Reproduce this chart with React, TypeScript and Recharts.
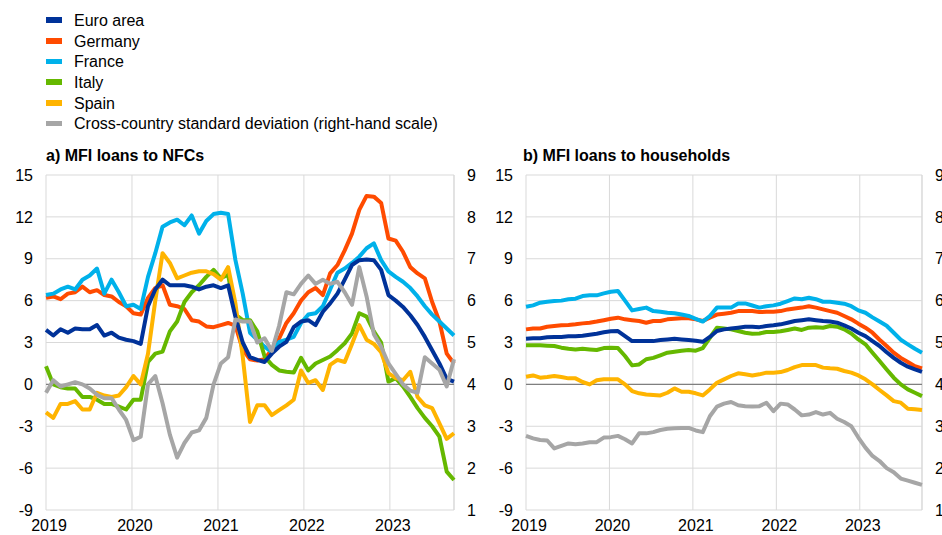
import React from 'react';
import { LineChart, Line, XAxis, YAxis, CartesianGrid, ReferenceLine } from 'recharts';

// ---- tick labels ----
const yearLabels = ['2019', '2020', '2021', '2022', '2023'];
const yearTicks = [0, 11.8, 23.6, 35.4, 47.2]; // month index of each January gridline
const leftTicks = [-9, -6, -3, 0, 3, 6, 9, 12, 15];
const rightTicks = [1, 2, 3, 4, 5, 6, 7, 8, 9];

// ---- a) MFI loans to NFCs (monthly, Jan 2019 - Sep 2023) ----
const euroNfc = [3.9, 3.5, 3.95, 3.7, 4.0, 3.95, 3.95, 4.25, 3.5, 3.7, 3.35, 3.2, 3.1, 2.9, 5.6, 6.8, 7.5, 7.1, 7.1, 7.1, 7.0, 6.8, 7.0, 7.1, 6.9, 7.1, 4.85, 3.0, 1.95, 1.75, 1.6, 2.2, 2.7, 3.05, 4.1, 4.5, 4.6, 4.25, 5.2, 5.8, 6.5, 7.5, 8.55, 8.9, 8.95, 8.9, 8.2, 6.4, 6.0, 5.55, 4.95, 4.25, 3.4, 2.45, 1.5, 0.4, 0.2];
const germanyNfc = [6.2, 6.3, 6.1, 6.5, 6.6, 7.0, 6.6, 6.75, 6.4, 6.3, 5.9, 5.6, 5.1, 5.0, 6.2, 6.9, 7.1, 5.7, 5.6, 5.4, 4.6, 4.5, 4.15, 4.1, 4.25, 4.4, 4.2, 2.5, 1.8, 1.7, 1.8, 2.5, 3.3, 4.4, 5.1, 6.0, 6.6, 6.9, 6.4, 7.95, 8.55, 9.6, 10.8, 12.5, 13.5, 13.45, 13.0, 10.45, 10.3, 9.5, 8.4, 7.95, 7.6, 5.9, 4.5, 2.2, 1.5];
const franceNfc = [6.4, 6.5, 6.8, 7.0, 6.8, 7.5, 7.8, 8.3, 6.5, 7.5, 6.6, 5.6, 5.7, 5.4, 7.7, 9.4, 11.3, 11.6, 11.8, 11.4, 12.1, 10.8, 11.7, 12.2, 12.3, 12.2, 8.9, 6.5, 3.7, 3.2, 2.7, 2.3, 3.05, 3.2, 3.4, 4.4, 5.0, 5.1, 5.6, 6.8, 8.0, 8.3, 8.7, 9.15, 9.75, 10.1, 8.9, 8.1, 7.7, 7.35, 6.9, 6.3, 5.6, 5.0, 4.5, 4.0, 3.5];
const italyNfc = [1.3, 0.0, -0.2, -0.3, -0.3, -0.9, -0.9, -1.1, -1.4, -1.4, -1.6, -1.8, -1.1, -1.1, 1.6, 2.2, 2.35, 3.8, 4.5, 5.9, 6.6, 7.1, 7.7, 8.2, 7.6, 7.85, 5.0, 4.6, 4.6, 3.8, 2.0, 1.4, 1.0, 0.9, 0.85, 1.9, 1.0, 1.5, 1.75, 2.0, 2.45, 2.95, 3.65, 5.1, 4.85, 3.8, 3.0, 0.2, 0.45, -0.15, -0.9, -1.7, -2.4, -3.0, -3.75, -6.25, -6.85];
const spainNfc = [-2.0, -2.4, -1.4, -1.4, -1.2, -1.8, -1.8, -0.6, -0.8, -0.9, -0.8, -0.2, 0.6, 0.0, 2.2, 6.0, 9.4, 8.7, 7.6, 7.8, 8.0, 8.1, 8.1, 7.9, 7.5, 8.4, 5.8, 2.0, -2.7, -1.5, -1.5, -2.2, -1.85, -1.5, -1.1, 1.0, 0.1, 0.3, -0.4, 1.4, 1.75, 1.6, 2.9, 4.25, 3.2, 2.9, 2.3, 0.8, 0.45, 0.3, 0.9, -0.9, -1.5, -1.7, -2.8, -3.9, -3.5];
const sdNfc = [3.8, 4.1, 3.95, 4.0, 4.05, 4.0, 3.9, 3.75, 3.67, 3.67, 3.4, 3.15, 2.67, 2.75, 4.0, 4.2, 3.55, 2.8, 2.25, 2.6, 2.85, 2.9, 3.2, 4.0, 4.5, 4.65, 5.55, 5.5, 5.5, 5.0, 5.1, 4.8, 5.4, 6.2, 6.15, 6.4, 6.6, 6.4, 6.5, 6.4, 6.45, 6.2, 5.9, 6.8, 6.1, 5.2, 4.9, 4.5, 4.25, 4.0, 3.85, 3.8, 4.65, 4.5, 4.35, 3.95, 4.6];

// ---- b) MFI loans to households ----
const euroHh = [3.27, 3.3, 3.3, 3.37, 3.4, 3.4, 3.44, 3.44, 3.49, 3.56, 3.63, 3.73, 3.8, 3.82, 3.46, 3.1, 3.1, 3.1, 3.1, 3.18, 3.22, 3.27, 3.22, 3.18, 3.13, 3.05, 3.4, 3.82, 3.94, 4.0, 4.06, 4.13, 4.13, 4.1, 4.18, 4.23, 4.3, 4.42, 4.54, 4.6, 4.66, 4.6, 4.54, 4.5, 4.42, 4.23, 4.0, 3.7, 3.46, 3.1, 2.75, 2.3, 1.9, 1.55, 1.27, 1.07, 0.9];
const germanyHh = [3.94, 4.0, 4.0, 4.13, 4.18, 4.23, 4.25, 4.3, 4.37, 4.42, 4.5, 4.6, 4.7, 4.78, 4.66, 4.6, 4.54, 4.42, 4.54, 4.54, 4.66, 4.7, 4.73, 4.73, 4.66, 4.54, 4.78, 5.0, 5.06, 5.13, 5.25, 5.25, 5.25, 5.18, 5.2, 5.2, 5.25, 5.37, 5.44, 5.5, 5.6, 5.5, 5.37, 5.25, 5.13, 4.9, 4.66, 4.35, 4.06, 3.7, 3.2, 2.75, 2.27, 1.9, 1.6, 1.3, 1.15];
const franceHh = [5.56, 5.66, 5.85, 5.92, 5.97, 6.0, 6.1, 6.14, 6.33, 6.38, 6.38, 6.52, 6.64, 6.69, 6.0, 5.3, 5.4, 5.5, 5.25, 5.2, 5.13, 5.09, 5.0, 4.9, 4.7, 4.5, 4.9, 5.5, 5.5, 5.5, 5.8, 5.8, 5.65, 5.5, 5.6, 5.66, 5.78, 5.97, 6.16, 6.1, 6.2, 6.1, 5.92, 5.92, 5.85, 5.78, 5.6, 5.3, 5.13, 4.8, 4.5, 4.2, 3.7, 3.2, 2.87, 2.55, 2.27];
const italyHh = [2.8, 2.8, 2.8, 2.77, 2.75, 2.63, 2.55, 2.5, 2.55, 2.5, 2.46, 2.6, 2.63, 2.6, 2.03, 1.36, 1.43, 1.8, 1.9, 2.08, 2.27, 2.34, 2.41, 2.46, 2.41, 2.6, 3.34, 4.06, 4.0, 3.94, 3.82, 3.7, 3.63, 3.65, 3.75, 3.75, 3.8, 3.9, 4.0, 3.9, 4.06, 4.1, 4.06, 4.18, 4.13, 3.94, 3.65, 3.22, 2.87, 2.27, 1.67, 1.07, 0.48, 0.0, -0.36, -0.6, -0.84];
const spainHh = [0.55, 0.64, 0.48, 0.53, 0.6, 0.53, 0.43, 0.43, 0.17, 0.0, 0.29, 0.36, 0.36, 0.36, 0.0, -0.48, -0.64, -0.72, -0.76, -0.79, -0.6, -0.29, -0.53, -0.53, -0.64, -0.79, -0.36, 0.12, 0.36, 0.6, 0.79, 0.72, 0.64, 0.72, 0.84, 0.84, 0.88, 1.03, 1.24, 1.38, 1.38, 1.38, 1.2, 1.15, 1.12, 0.96, 0.84, 0.64, 0.36, 0.0, -0.4, -0.79, -1.2, -1.31, -1.74, -1.79, -1.84];
const sdHh = [2.77, 2.71, 2.67, 2.66, 2.47, 2.53, 2.59, 2.57, 2.59, 2.62, 2.62, 2.73, 2.74, 2.77, 2.69, 2.59, 2.83, 2.83, 2.86, 2.91, 2.94, 2.95, 2.96, 2.96, 2.9, 2.86, 3.24, 3.47, 3.54, 3.58, 3.5, 3.48, 3.47, 3.48, 3.56, 3.36, 3.54, 3.52, 3.4, 3.26, 3.28, 3.34, 3.28, 3.32, 3.18, 3.1, 3.0, 2.73, 2.49, 2.29, 2.17, 2.0, 1.9, 1.75, 1.7, 1.65, 1.6];

const seriesInfo = [
  { key: 'germany', name: 'Germany', color: '#FF4B00', axis: 'l' },
  { key: 'france', name: 'France', color: '#00B1EA', axis: 'l' },
  { key: 'italy', name: 'Italy', color: '#65B800', axis: 'l' },
  { key: 'spain', name: 'Spain', color: '#FFB400', axis: 'l' },
  { key: 'euro', name: 'Euro area', color: '#003299', axis: 'l' },
  { key: 'sd', name: 'Cross-country standard deviation (right-hand scale)', color: '#A6A6A6', axis: 'r' },
];
const legendOrder = ['euro', 'germany', 'france', 'italy', 'spain', 'sd'];

const nfcData = euroNfc.map((_, i) => ({
  i,
  euro: euroNfc[i],
  germany: germanyNfc[i],
  france: franceNfc[i],
  italy: italyNfc[i],
  spain: spainNfc[i],
  sd: sdNfc[i],
}));
const hhData = euroHh.map((_, i) => ({
  i,
  euro: euroHh[i],
  germany: germanyHh[i],
  france: franceHh[i],
  italy: italyHh[i],
  spain: spainHh[i],
  sd: sdHh[i],
}));

const FONT = 'Arial, "Liberation Sans", sans-serif';
const tickStyle = { fontSize: 16, fill: '#000', fontFamily: FONT };
const lastIndex = euroNfc.length - 1;

function Panel(props: { data: any[]; width: number; rightWidth: number }) {
  const { data, width, rightWidth } = props;
  return (
    <LineChart
      width={width}
      height={395}
      data={data}
      margin={{ top: 35, right: 0, left: 0, bottom: 0 }}
    >
      <CartesianGrid yAxisId="l" stroke="#d9d9d9" strokeWidth={1} />
      <XAxis
        dataKey="i"
        type="number"
        domain={[0, lastIndex]}
        ticks={yearTicks}
        tickFormatter={(v: number) => yearLabels[yearTicks.indexOf(v)] ?? ''}
        axisLine={false}
        tickLine={false}
        tickSize={6}
        tickMargin={4}
        height={25}
        tick={{ ...tickStyle, dx: 3 }}
        interval={0}
      />
      <YAxis
        yAxisId="l"
        orientation="left"
        domain={[-9, 15]}
        ticks={leftTicks}
        axisLine={false}
        tickLine={false}
        tickSize={6}
        tickMargin={7}
        width={46}
        tick={tickStyle}
        interval={0}
      />
      <YAxis
        yAxisId="r"
        orientation="right"
        domain={[1, 9]}
        ticks={rightTicks}
        axisLine={false}
        tickLine={false}
        tickSize={6}
        tickMargin={7}
        width={rightWidth}
        tick={{ ...tickStyle, textAnchor: 'start' }}
        interval={0}
      />
      <ReferenceLine yAxisId="l" x={lastIndex} stroke="#d9d9d9" strokeWidth={1} />
      <ReferenceLine yAxisId="l" y={0} stroke="#7f7f7f" strokeWidth={1.3} />
      {seriesInfo.map((s) => (
        <Line
          key={s.key}
          yAxisId={s.axis}
          type="linear"
          dataKey={s.key}
          name={s.name}
          stroke={s.color}
          strokeWidth={4}
          strokeLinejoin="round"
          dot={false}
          activeDot={false}
          isAnimationActive={false}
        />
      ))}
    </LineChart>
  );
}

export default function App() {
  return (
    <div
      style={{
        position: 'absolute',
        left: 0,
        top: 0,
        width: 942,
        height: 535,
        overflow: 'hidden',
        background: '#fff',
        fontFamily: FONT,
        color: '#000',
      }}
    >
      {legendOrder.map((k, idx) => {
        const s = seriesInfo.find((x) => x.key === k)!;
        const top = 10.8 + idx * 20.7;
        return (
          <div key={k} style={{ position: 'absolute', left: 0, top, height: 20.7, width: 600 }}>
            <div
              style={{
                position: 'absolute',
                left: 46,
                top: 6.5,
                width: 16,
                height: 5.5,
                background: s.color,
              }}
            />
            <div
              style={{
                position: 'absolute',
                left: 74,
                top: 0,
                fontSize: 16,
                lineHeight: '20.7px',
                whiteSpace: 'nowrap',
              }}
            >
              {s.name}
            </div>
          </div>
        );
      })}
      <div
        style={{
          position: 'absolute',
          left: 46,
          top: 148,
          fontSize: 16,
          lineHeight: '16px',
          fontWeight: 'bold',
          whiteSpace: 'nowrap',
        }}
      >
        a) MFI loans to NFCs
      </div>
      <div
        style={{
          position: 'absolute',
          left: 523,
          top: 148,
          fontSize: 16,
          lineHeight: '16px',
          fontWeight: 'bold',
          whiteSpace: 'nowrap',
        }}
      >
        b) MFI loans to households
      </div>
      <div style={{ position: 'absolute', left: 0, top: 140 }}>
        <Panel data={nfcData} width={480} rightWidth={26} />
      </div>
      <div style={{ position: 'absolute', left: 480, top: 140 }}>
        <Panel data={hhData} width={462} rightWidth={20} />
      </div>
    </div>
  );
}
